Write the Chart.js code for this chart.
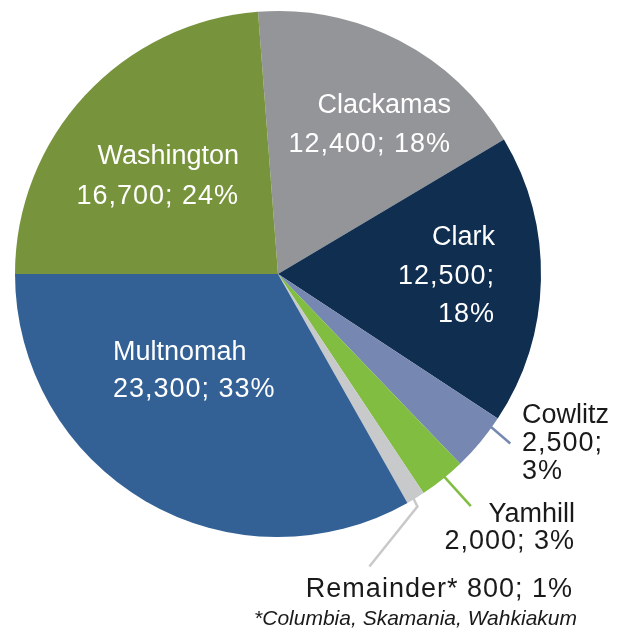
<!DOCTYPE html>
<html>
<head>
<meta charset="utf-8">
<script src="https://cdn.jsdelivr.net/npm/chart.js@4/dist/chart.umd.min.js"></script>
<style>
  body { margin: 0; background: #fff; }
  #wrap { width: 623px; height: 633px; }
</style>
</head>
<body>
<div id="wrap"><canvas id="pieChart"></canvas></div>
<script>
// data
const counties = ["Clackamas", "Clark", "Cowlitz", "Yamhill", "Remainder*", "Multnomah", "Washington"];
const jobs = [12400, 12500, 2500, 2000, 800, 23300, 16700];
const shares = ["18%", "18%", "3%", "3%", "1%", "33%", "24%"];
const colors = ["#939598", "#0f2e50", "#7688b2", "#80bd41", "#c8c9cb", "#336195", "#77933c"];
const footnote = "*Columbia, Skamania, Wahkiakum";

// label placement, relative to pie centre
const labelLayout = [
  { tpl: "{n}\n{v}; {p}", dx: 173, dy: -161, lh: 39, align: "right", color: "#fff" },
  { tpl: "{n}\n{v};\n{p}", dx: 217, dy: -29, lh: 38.5, align: "right", color: "#fff" },
  { tpl: "{n}\n{v};\n{p}", dx: 244, dy: 149, lh: 28, align: "left", color: "#1a1a1a", leader: { frac: 0.18, pts: [[21, 18]] } },
  { tpl: "{n}\n{v}; {p}", dx: 297, dy: 248, lh: 27, align: "right", color: "#1a1a1a", leader: { frac: 0.44, pts: [[28, 31]] } },
  { tpl: "{n} {v}; {p}", dx: 295, dy: 323, lh: 28, align: "right", color: "#1a1a1a", leader: { frac: 0.6, pts: [[5, 10], [-43, 70]] } },
  { tpl: "{n}\n{v}; {p}", dx: -165, dy: 86, lh: 37, align: "left", color: "#fff" },
  { tpl: "{n}\n{v}; {p}", dx: -39, dy: -110, lh: 40, align: "right", color: "#fff" },
];

const fontFamily = "'Liberation Sans', Arial, sans-serif";

// rotation so Washington ends right where the picture shows
const total = jobs.reduce((a, b) => a + b, 0);
const rotation = 270 + (jobs[jobs.length - 1] / total) * 360 - 360;

const labelPlugin = {
  id: "sliceLabels",
  afterDatasetsDraw(chart) {
    const ctx = chart.ctx;
    const arcs = chart.getDatasetMeta(0).data;
    ctx.save();
    arcs.forEach((arc, i) => {
      const lay = labelLayout[i];
      const cx = arc.x, cy = arc.y;
      // leader line
      if (lay.leader) {
        const a = arc.startAngle + lay.leader.frac * (arc.endAngle - arc.startAngle);
        const sx = cx + (arc.outerRadius - 3) * Math.cos(a);
        const sy = cy + (arc.outerRadius - 3) * Math.sin(a);
        ctx.beginPath();
        ctx.moveTo(sx, sy);
        lay.leader.pts.forEach((p) => ctx.lineTo(sx + p[0], sy + p[1]));
        ctx.strokeStyle = colors[i];
        ctx.lineWidth = 2.5;
        ctx.stroke();
      }
      const text = lay.tpl
        .replace("{n}", counties[i])
        .replace("{v}", jobs[i].toLocaleString("en-US"))
        .replace("{p}", shares[i]);
      ctx.font = "27px " + fontFamily;
      ctx.fillStyle = lay.color;
      ctx.textAlign = lay.align;
      ctx.textBaseline = "alphabetic";
      text.split("\n").forEach((line, k) => {
        // the source font has wide figures, so open up lines with numbers a bit
        ctx.letterSpacing = /\d/.test(line) ? "1px" : "0px";
        ctx.fillText(line, cx + lay.dx, cy + lay.dy + k * lay.lh);
      });
      if (i === 0) {
        ctx.letterSpacing = "0px";
        ctx.font = "italic 21px " + fontFamily;
        ctx.fillStyle = "#1a1a1a";
        ctx.textAlign = "right";
        ctx.fillText(footnote, cx + 299, cy + 351);
      }
    });
    ctx.restore();
  },
};

const pieConfig = {
  type: "pie",
  data: {
    labels: counties,
    datasets: [
      {
        data: jobs,
        backgroundColor: colors,
        borderWidth: 0,
      },
    ],
  },
  options: {
    responsive: true,
    maintainAspectRatio: false,
    animation: false,
    rotation: rotation,
    layout: {
      padding: { left: 15, right: 82, top: 11, bottom: 96 },
    },
    plugins: {
      legend: { display: false },
      tooltip: { enabled: false },
    },
  },
  plugins: [labelPlugin],
};

const pieChart = new Chart(document.getElementById("pieChart"), pieConfig);
</script>
</body>
</html>
